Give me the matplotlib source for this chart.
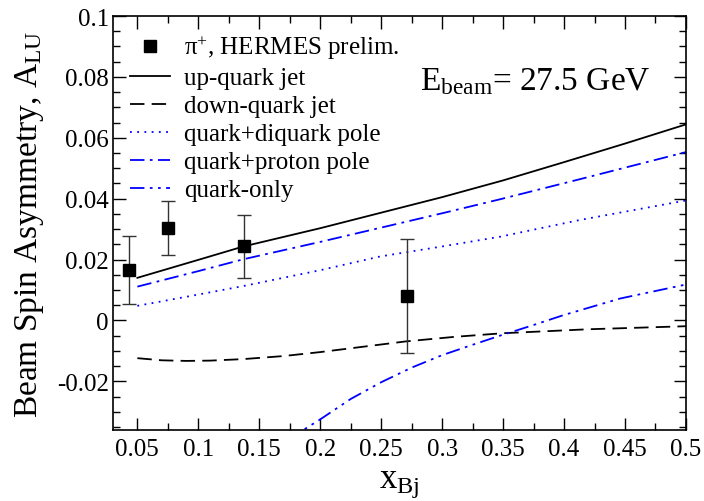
import matplotlib
matplotlib.use("Agg")
import matplotlib.pyplot as plt
from matplotlib.ticker import MultipleLocator

plt.rcParams['font.family'] = ['Liberation Serif', 'DejaVu Serif']
plt.rcParams['mathtext.fontset'] = 'custom'
plt.rcParams['mathtext.rm'] = 'Liberation Serif'
plt.rcParams['mathtext.it'] = 'Liberation Serif:italic'

# HERMES preliminary data
x_data = [0.0434, 0.0754, 0.1371, 0.271]
y_data = [0.0166, 0.0304, 0.0243, 0.0080]
y_err = [0.0111, 0.0089, 0.0102, 0.0187]

# model curves
x_up = [0.05, 0.1, 0.137, 0.2, 0.25, 0.3, 0.35, 0.4, 0.45, 0.5]
y_up = [0.0140, 0.0199, 0.0243, 0.0303, 0.0354, 0.0405, 0.0460, 0.0520, 0.0581, 0.0644]

x_down = [0.05, 0.07, 0.09, 0.11, 0.137, 0.17, 0.2, 0.24, 0.27, 0.31, 0.35, 0.42, 0.5]
y_down = [-0.0124, -0.0131, -0.0133, -0.0132, -0.0127, -0.0117, -0.0104, -0.0084, -0.0069, -0.0054, -0.0042, -0.0029, -0.0019]

x_diq = [0.05, 0.1, 0.137, 0.2, 0.249, 0.3, 0.3475, 0.413, 0.5]
y_diq = [0.0048, 0.0085, 0.0113, 0.0165, 0.0210, 0.0243, 0.0275, 0.0330, 0.0394]

x_prot = [0.05, 0.1, 0.137, 0.2, 0.249, 0.3, 0.3475, 0.413, 0.5]
y_prot = [0.0111, 0.0162, 0.0201, 0.0258, 0.0304, 0.0352, 0.0398, 0.0464, 0.0553]

x_qonly = [0.175, 0.186, 0.2, 0.225, 0.25, 0.275, 0.3, 0.325, 0.3475, 0.375, 0.4, 0.446, 0.5]
y_qonly = [-0.0400, -0.0360, -0.0325, -0.0258, -0.0203, -0.0155, -0.0114, -0.0080, -0.0050, -0.0015, 0.0018, 0.0072, 0.0118]

fig = plt.figure(figsize=(7.04, 5.02), dpi=100)
ax = fig.add_axes([0.1605, 0.1414, 0.8139, 0.8247])

ax.errorbar(x_data, y_data, yerr=y_err, fmt='none', ecolor='#333333',
            elinewidth=1, capsize=5, capthick=1, zorder=4)
pts, = ax.plot(x_data, y_data, 's', color='black', ms=9, zorder=5,
               label='π$^{+}$, HERMES prelim.')
l1, = ax.plot(x_up, y_up, color='black', lw=1.3, ls='-', label='up-quark jet')
l2, = ax.plot(x_down, y_down, color='black', lw=1.3, ls=(0, (8, 4)), label='down-quark jet')
l3, = ax.plot(x_diq, y_diq, color='blue', lw=1.3, ls=(0, (1, 3)), label='quark+diquark pole')
l4, = ax.plot(x_prot, y_prot, color='blue', lw=1.3, ls=(0, (8, 3, 1.5, 3)), label='quark+proton pole')
l5, = ax.plot(x_qonly, y_qonly, color='blue', lw=1.3, ls=(0, (8, 3, 1.5, 3, 1.5, 3)), label='quark-only')

ax.set_xlim(0.03, 0.5)
ax.set_ylim(-0.036, 0.1)
ax.xaxis.set_minor_locator(MultipleLocator(0.025))
ax.yaxis.set_minor_locator(MultipleLocator(0.005))

xt = [0.05, 0.1, 0.15, 0.2, 0.25, 0.3, 0.35, 0.4, 0.45, 0.5]
ax.set_xticks(xt)
ax.set_xticklabels(['0.05', '0.1', '0.15', '0.2', '0.25', '0.3', '0.35', '0.4', '0.45', '0.5'])
yt = [-0.02, 0, 0.02, 0.04, 0.06, 0.08, 0.1]
ax.set_yticks(yt)
ax.set_yticklabels(['-0.02', '0', '0.02', '0.04', '0.06', '0.08', '0.1'])

ax.tick_params(which='both', direction='in', top=True, right=True, labelsize=18, width=1)
ax.tick_params(which='major', length=9)
ax.tick_params(which='minor', length=5)
ax.tick_params(axis='y', which='major', pad=3)
ax.tick_params(axis='x', which='major', pad=6)
for s in ax.spines.values():
    s.set_linewidth(1.2)

ax.set_xlabel(r'$\mathrm{x}_{\mathrm{Bj}}$', fontsize=25, labelpad=4)
ax.set_ylabel(r'Beam Spin Asymmetry, A$_{\mathrm{LU}}$', fontsize=24, labelpad=8)

ax.text(0.536, 0.824, r'E$_{\mathrm{beam}}$= 27.5 GeV', transform=ax.transAxes, fontsize=24)

ax.legend(handles=[pts, l1, l2, l3, l4, l5], loc='upper left', frameon=False,
          fontsize=18, handlelength=1.6, handletextpad=0.55, labelspacing=0.22,
          borderaxespad=0.3, bbox_to_anchor=(0.0, 1.0))

fig.savefig('out.png', dpi=100)
